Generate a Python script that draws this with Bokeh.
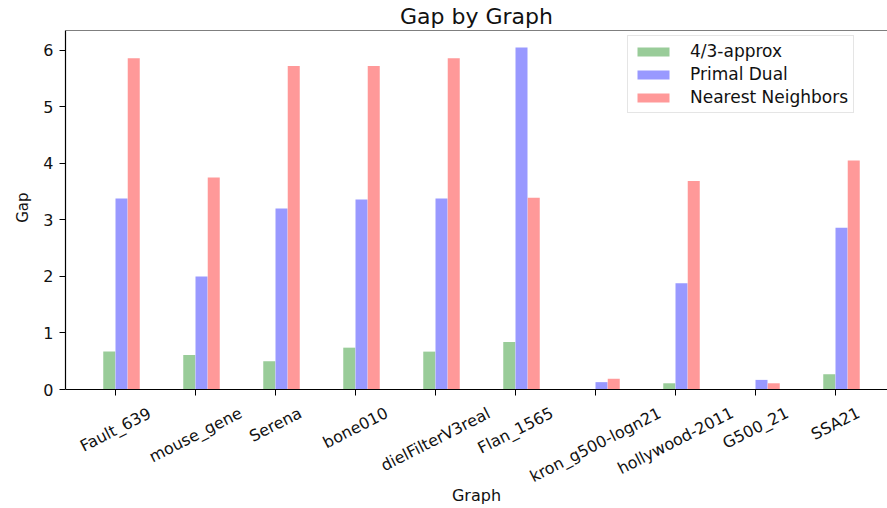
import math
from bokeh.plotting import figure
from bokeh.models import ColumnDataSource, Range1d, Legend, LegendItem, FixedTicker, Label, Span, Title
from bokeh.transform import dodge
from bokeh.embed import file_html
from bokeh.resources import INLINE

graphs = ["Fault_639", "mouse_gene", "Serena", "bone010", "dielFilterV3real",
          "Flan_1565", "kron_g500-logn21", "hollywood-2011", "G500_21", "SSA21"]
approx = [0.67, 0.61, 0.50, 0.74, 0.67, 0.84, 0.0, 0.11, 0.0, 0.27]
primal = [3.38, 2.00, 3.20, 3.36, 3.38, 6.05, 0.13, 1.88, 0.17, 2.86]
nearest = [5.86, 3.75, 5.72, 5.72, 5.86, 3.39, 0.19, 3.69, 0.11, 4.05]
y_ticks = [0, 1, 2, 3, 4, 5, 6]
series_names = ["4/3-approx", "Primal Dual", "Nearest Neighbors"]

FONT = "DejaVu Sans"
TICK_FS = 16
ANGLE = 27.0

idx = list(range(len(graphs)))
src = ColumnDataSource(dict(idx=idx, graph=graphs, approx=approx, primal=primal, nearest=nearest))

# approximate DejaVu Sans advance widths (em) to centre the rotated labels under ticks
CW = {'a': .613, 'b': .635, 'c': .550, 'd': .635, 'e': .615, 'f': .352, 'g': .635, 'h': .634,
      'i': .278, 'k': .579, 'l': .278, 'm': .974, 'n': .634, 'o': .612, 'p': .635, 'r': .411,
      's': .521, 't': .392, 'u': .634, 'v': .592, 'w': .818, 'y': .592, 'x': .592,
      'F': .575, 'S': .635, 'V': .684, 'A': .684, 'G': .775, '_': .5, '-': .361}
def text_w(s, fs):
    return sum(CW.get(c, .636) for c in s) * fs

a = math.radians(ANGLE)
hbox = 1.16 * TICK_FS

# plotting area: 359 px for 0..6.35, extended below 0 to hold the rotated tick labels
Y_TOP = 6.35
PLOT_H = 359
FRAME_H = 478
y_bottom = Y_TOP - FRAME_H * Y_TOP / PLOT_H

p = figure(x_range=Range1d(-0.625, 9.65),
           y_range=Range1d(y_bottom, Y_TOP),
           frame_width=822, frame_height=FRAME_H,
           min_border_left=65, min_border_right=0, min_border_top=30, min_border_bottom=0,
           output_backend="svg", toolbar_location=None, title="Gap by Graph")

w = 0.15
r1 = p.vbar(x=dodge("idx", -0.078), top="approx", width=w, source=src,
            fill_color="#99cc99", line_color=None)
r2 = p.vbar(x=dodge("idx", 0.075), top="primal", width=w, source=src,
            fill_color="#9999ff", line_color=None)
r3 = p.vbar(x=dodge("idx", 0.228), top="nearest", width=w, source=src,
            fill_color="#ff9999", line_color=None)

p.title.text_font = FONT
p.title.text_font_size = "22px"
p.title.text_font_style = "normal"
p.title.align = "center"
p.title.standoff = 3
p.title.text_color = "#111111"

p.xgrid.grid_line_color = None
p.ygrid.grid_line_color = None
p.outline_line_color = None
p.add_layout(Span(location=Y_TOP, dimension="width", line_color="black", line_width=1.2))

p.yaxis.ticker = FixedTicker(ticks=y_ticks)
p.yaxis.bounds = (0, Y_TOP)
p.xaxis.ticker = FixedTicker(ticks=idx)
p.xaxis.fixed_location = 0
for ax in (p.xaxis, p.yaxis):
    ax.axis_line_color = "black"
    ax.axis_line_width = 1.2
    ax.major_tick_line_color = "black"
    ax.major_tick_out = 6
    ax.major_tick_in = 0
    ax.minor_tick_line_color = None
    ax.major_label_text_font = FONT
    ax.major_label_text_font_size = f"{TICK_FS}px"
    ax.major_label_text_color = "#111111"
p.yaxis.major_label_standoff = 6
p.xaxis.major_label_text_color = None

# y-axis title, centred on the 0..6.35 part of the frame
p.add_layout(Title(text="Gap", align="right", offset=162, standoff=17,
                   text_font=FONT, text_font_size="15px", text_font_style="normal",
                   text_color="#111111"), "left")

# tick labels: rotated, centred under each tick (matplotlib style)
for i, g in zip(idx, graphs):
    off = -(14 + (text_w(g, TICK_FS) * math.sin(a) + hbox * math.cos(a)) / 2)
    p.add_layout(Label(x=i, y=0, text=g, y_offset=off, angle=ANGLE, angle_units="deg",
                       text_align="center", text_baseline="middle", text_font=FONT,
                       text_font_size=f"{TICK_FS}px", text_color="#111111"))

# x-axis title
p.add_layout(Label(x=(p.x_range.start + p.x_range.end) / 2, y=0, y_offset=-106, text="Graph",
                   text_align="center", text_baseline="middle", text_font=FONT,
                   text_font_size="16px", text_color="#111111"))

legend = Legend(items=[LegendItem(label=series_names[0], renderers=[r1]),
                       LegendItem(label=series_names[1], renderers=[r2]),
                       LegendItem(label=series_names[2], renderers=[r3])],
                location=(562, FRAME_H - 8 - 75), margin=0, padding=5, spacing=3,
                glyph_width=40, glyph_height=11, label_height=20, label_standoff=17,
                label_text_font=FONT, label_text_font_size="17px",
                label_text_color="#111111",
                border_line_color="#cccccc", border_line_width=1,
                background_fill_alpha=0.9)
p.add_layout(legend)

open("out.html", "w").write(file_html(p, INLINE))
